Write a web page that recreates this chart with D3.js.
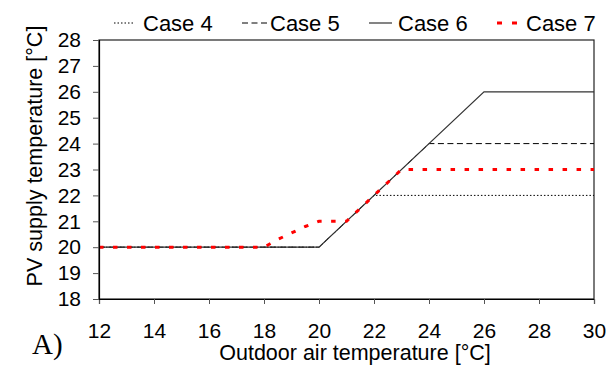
<!DOCTYPE html>
<html>
<head>
<meta charset="utf-8">
<script src="https://cdn.jsdelivr.net/npm/d3@7"></script>
<style>
  body { margin: 0; background: #fff; }
  text { font-family: "Liberation Sans", Arial, sans-serif; fill: #000; }
</style>
</head>
<body>
<div class="viz"></div>
<script>
var case4 = [[12, 20], [20, 20], [22, 22], [30, 22]];
var case5 = [[12, 20], [20, 20], [24, 24], [30, 24]];
var case6 = [[12, 20], [20, 20], [26, 26], [30, 26]];
var case7 = [[12, 20], [18, 20], [18.5, 20.3], [19, 20.55], [19.5, 20.8], [20, 21], [21, 21], [23, 23], [30, 23]];
var xTicks = [12, 14, 16, 18, 20, 22, 24, 26, 28, 30];
var yTicks = [18, 19, 20, 21, 22, 23, 24, 25, 26, 27, 28];

var series = [
  { name: "Case 4", data: case4, color: "#000", width: 1, dash: "1.5,2" },
  { name: "Case 5", data: case5, color: "#000", width: 1, dash: "6,3.5" },
  { name: "Case 6", data: case6, color: "#333", width: 1.2, dash: null },
  { name: "Case 7", data: case7, color: "#f00", width: 3, dash: "4.5,9.5" }
];

var W = 608, H = 365;
var margin = { top: 40, right: 14, bottom: 66, left: 99 },
  width = W - margin.left - margin.right,
  height = H - margin.top - margin.bottom;

var svg = d3.select(".viz").append("svg").attr("width", W).attr("height", H);

var x = d3.scaleLinear().domain([12, 30]).range([0, width]);
var y = d3.scaleLinear().domain([18, 28]).range([height, 0]);

var g = svg.append("g").attr("transform", "translate(" + margin.left + "," + margin.top + ")");

// frame
g.append("rect")
  .attr("x", 0).attr("y", 0)
  .attr("width", width).attr("height", height)
  .attr("fill", "none").attr("stroke", "#222").attr("stroke-width", 1.2);

var line = d3.line().x(function (d) { return x(d[0]); }).y(function (d) { return y(d[1]); });

g.selectAll(".series")
  .data(series)
  .enter()
  .append("path")
  .attr("class", "series")
  .attr("d", function (d) { return line(d.data); })
  .attr("fill", "none")
  .attr("stroke", function (d) { return d.color; })
  .attr("stroke-width", function (d) { return d.width; })
  .attr("stroke-dasharray", function (d) { return d.dash; });

var xAxis = g.append("g")
  .attr("transform", "translate(0," + height + ")")
  .call(d3.axisBottom(x).tickValues(xTicks).tickSize(5).tickPadding(19));
var yAxis = g.append("g")
  .call(d3.axisLeft(y).tickValues(yTicks).tickSize(6).tickPadding(12));

[xAxis, yAxis].forEach(function (a) {
  a.select(".domain").attr("stroke", "#000").attr("stroke-width", 1.2);
  a.selectAll(".tick line").attr("stroke", "#555");
  a.selectAll(".tick text").style("font-size", "21px").attr("fill", "#000");
});

// axis titles
svg.append("text")
  .attr("x", 355)
  .attr("y", 360)
  .attr("text-anchor", "middle")
  .style("font-size", "21.5px")
  .text("Outdoor air temperature  [°C]");

svg.append("text")
  .attr("transform", "translate(42,156) rotate(-90)")
  .attr("text-anchor", "middle")
  .style("font-size", "21.5px")
  .text("PV supply temperature [°C]");

svg.append("text")
  .attr("x", 32)
  .attr("y", 354)
  .style("font-family", "'Liberation Serif', 'Times New Roman', serif")
  .style("font-size", "29px")
  .text("A)");

// legend
var legX = [114, 242, 369, 497];
var legLen = [19, 25, 23, 20];
var legText = [143, 270, 398, 526];
var leg = svg.selectAll(".leg")
  .data(series)
  .enter()
  .append("g")
  .attr("class", "leg");

leg.append("line")
  .attr("x1", function (d, i) { return legX[i]; })
  .attr("x2", function (d, i) { return legX[i] + legLen[i]; })
  .attr("y1", 23).attr("y2", 23)
  .attr("stroke", function (d) { return d.color; })
  .attr("stroke-width", function (d) { return d.width; })
  .attr("stroke-dasharray", function (d, i) { return i === 3 ? "5,10" : d.dash; });

leg.append("text")
  .attr("x", function (d, i) { return legText[i]; })
  .attr("y", 30.5)
  .style("font-size", "22px")
  .text(function (d) { return d.name; });
</script>
</body>
</html>
